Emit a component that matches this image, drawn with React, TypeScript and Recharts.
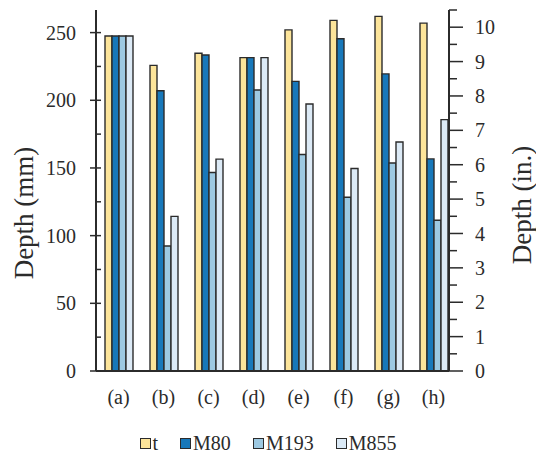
import { BarChart, Bar, XAxis, YAxis, Legend } from 'recharts'

// penetration depth per case, mm
const CASES = ['(a)', '(b)', '(c)', '(d)', '(e)', '(f)', '(g)', '(h)']
const T_DEPTH = [247.5, 225.8, 234.7, 231.5, 252, 259, 262, 257]
const M80_DEPTH = [247.5, 207, 233.4, 231.5, 214, 245.5, 219.5, 156.7]
const M193_DEPTH = [247.5, 92.3, 146.6, 207.6, 160, 128.4, 153.7, 111.4]
const M855_DEPTH = [247.5, 114.2, 156.5, 231.5, 197.3, 149.6, 169.2, 185.7]

const MM_TICKS = [0, 25, 50, 75, 100, 125, 150, 175, 200, 225, 250]
const IN_TICKS = [0, 0.5, 1, 1.5, 2, 2.5, 3, 3.5, 4, 4.5, 5, 5.5, 6, 6.5, 7, 7.5, 8, 8.5, 9, 9.5, 10, 10.5]
const MM_MAX = 266.7
const IN_MAX = 10.5

const SERIES = [
  { key: 't', name: 't', color: '#FCE49A' },
  { key: 'm80', name: 'M80', color: '#1878BA' },
  { key: 'm193', name: 'M193', color: '#9DC9E2' },
  { key: 'm855', name: 'M855', color: '#DCEAF6' },
]

const INK = '#2b2b2b'
const FONT = '"Liberation Serif", "Times New Roman", Times, serif'

const data = CASES.map((c, i) => ({
  case: c,
  t: T_DEPTH[i],
  m80: M80_DEPTH[i],
  m193: M193_DEPTH[i],
  m855: M855_DEPTH[i],
}))

function MmTick({ x, y, payload }: any) {
  const v = payload.value
  const major = v % 50 === 0
  return (
    <g>
      <line x1={major ? x - 6 : x} x2={x + 5} y1={y} y2={y} stroke={INK} strokeWidth={1.5} />
      {major && (
        <text x={x - 20} y={y} dy="0.355em" textAnchor="end" fontSize={20} fontFamily={FONT} fill={INK}>
          {v}
        </text>
      )}
    </g>
  )
}

function InTick({ x, y, payload }: any) {
  const v = payload.value
  const major = Number.isInteger(v)
  return (
    <g>
      <line x1={x} x2={major ? x + 14 : x + 8} y1={y} y2={y} stroke={INK} strokeWidth={1.5} />
      {major && (
        <text x={x + 26} y={y} dy="0.355em" textAnchor="start" fontSize={20} fontFamily={FONT} fill={INK}>
          {v}
        </text>
      )}
    </g>
  )
}

// rotated axis title, placed relative to the axis box
function AxisTitle({ viewBox, text, dx, cy }: any) {
  const x = viewBox.x + dx
  return (
    <text
      x={x}
      y={cy}
      transform={`rotate(-90 ${x} ${cy})`}
      textAnchor="middle"
      dominantBaseline="central"
      fontSize={27}
      fontFamily={FONT}
      fill={INK}
    >
      {text}
    </text>
  )
}

function LegendRow() {
  return (
    <div style={{ display: 'flex', justifyContent: 'center', gap: 22, height: 30, alignItems: 'center', fontFamily: FONT }}>
      {SERIES.map((s) => (
        <div key={s.key} style={{ display: 'flex', alignItems: 'center', gap: 2 }}>
          <span style={{ width: 9, height: 9, background: s.color, border: `1.5px solid ${INK}` }} />
          <span style={{ fontFamily: FONT, fontSize: 20, color: INK, lineHeight: '20px' }}>{s.name}</span>
        </div>
      ))}
    </div>
  )
}

export default function App() {
  return (
    <div style={{ position: 'absolute', left: 0, top: 0, background: '#fff' }}>
      <BarChart
        width={536}
        height={458}
        data={data}
        margin={{ top: 10, right: 0, bottom: 0, left: 0 }}
        barGap={0}
        barSize={7}
      >
        <XAxis
          dataKey="case"
          height={57}
          padding={{ left: 0, right: -7 }}
          axisLine={{ stroke: INK, strokeWidth: 2 }}
          tickLine={false}
          tickMargin={13}
          tick={{ fontSize: 20, fontFamily: FONT, fill: INK }}
        />
        <YAxis
          yAxisId="mm"
          orientation="left"
          width={96}
          domain={[0, MM_MAX]}
          ticks={MM_TICKS}
          allowDataOverflow
          interval={0}
          tickSize={0}
          tickMargin={0}
          tickLine={false}
          axisLine={{ stroke: INK, strokeWidth: 2 }}
          tick={<MmTick />}
          label={<AxisTitle text="Depth (mm)" dx={24} cy={213} />}
        />
        <YAxis
          yAxisId="in"
          orientation="right"
          width={87}
          domain={[0, IN_MAX]}
          ticks={IN_TICKS}
          allowDataOverflow
          interval={0}
          tickSize={0}
          tickMargin={0}
          tickLine={false}
          axisLine={{ stroke: INK, strokeWidth: 2 }}
          tick={<InTick />}
          label={<AxisTitle text="Depth (in.)" dx={73} cy={205} />}
        />
        <Legend verticalAlign="bottom" content={<LegendRow />} />
        {SERIES.map((s) => (
          <Bar
            key={s.key}
            yAxisId="mm"
            dataKey={s.key}
            name={s.name}
            fill={s.color}
            stroke={INK}
            strokeWidth={1.4}
            isAnimationActive={false}
          />
        ))}
      </BarChart>
    </div>
  )
}
